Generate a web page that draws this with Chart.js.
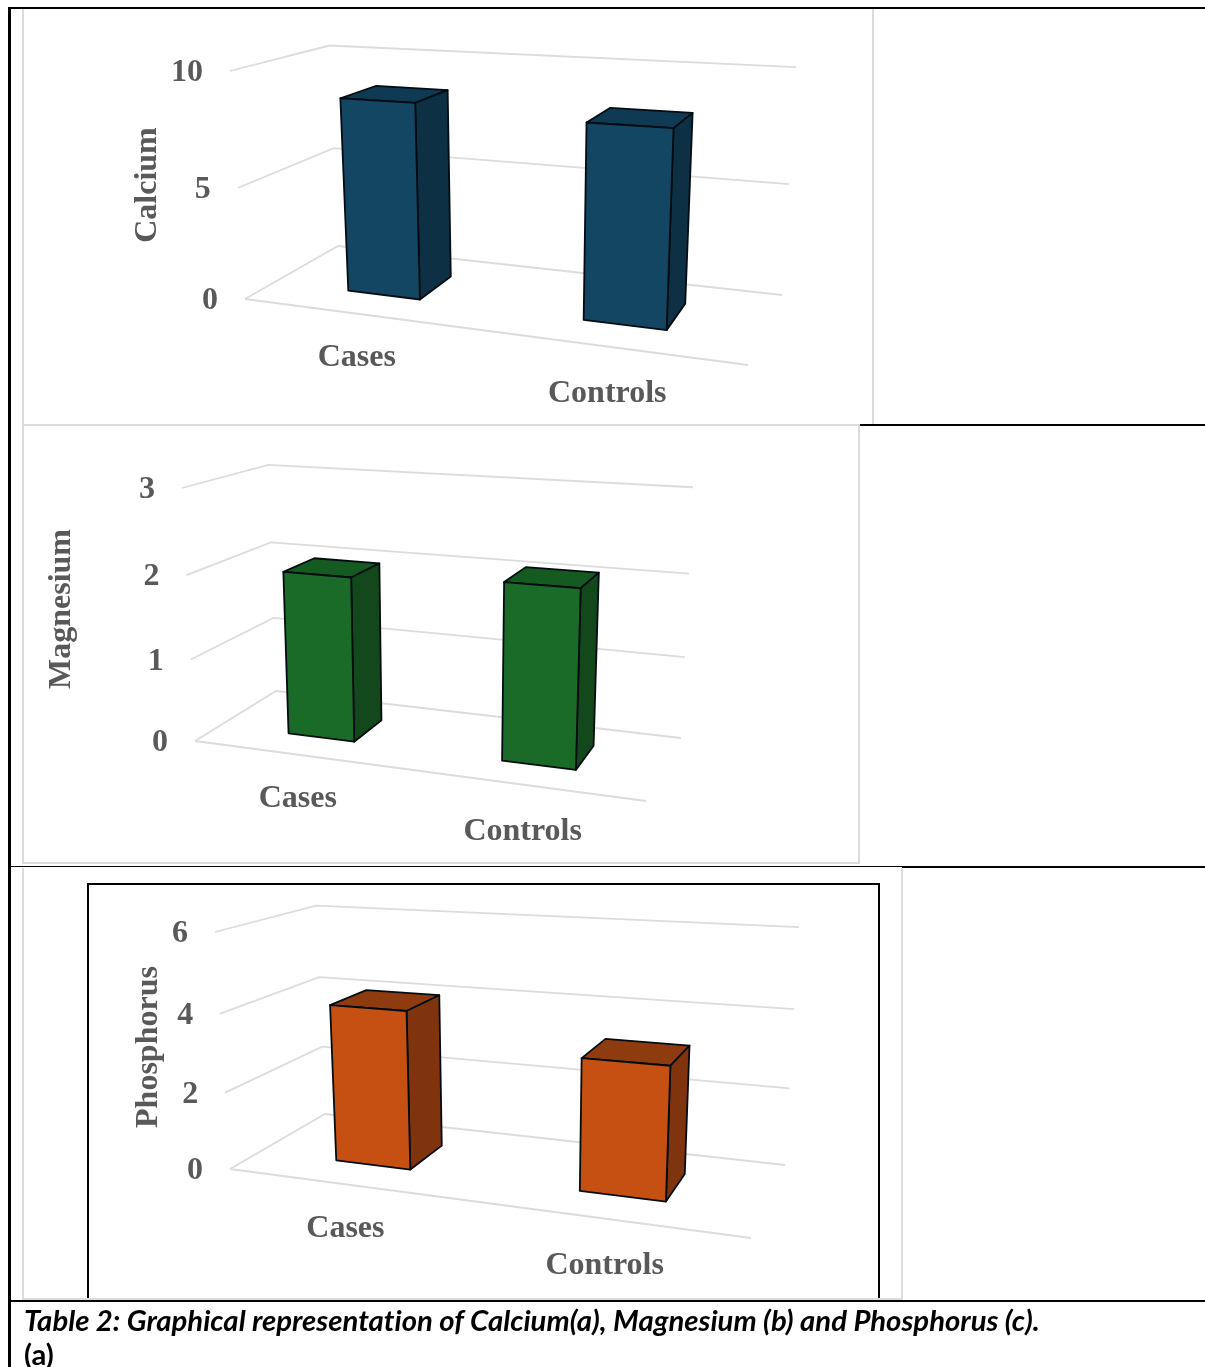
<!DOCTYPE html>
<html>
<head>
<meta charset="utf-8">
<title>Table 2</title>
<script src="https://cdn.jsdelivr.net/npm/chart.js@4/dist/chart.umd.js"></script>
<style>
html, body { margin: 0; padding: 0; background: #fff; overflow: hidden; }
body { position: relative; width: 1205px; height: 1367px; }
.rule { position: absolute; background: #000; }
.panel { position: absolute; box-sizing: border-box; background: #fff; }
.panel canvas { display: block; position: absolute; left: 0; top: 0; }
.edge { position: absolute; background: #dcdcdc; }
.caption { position: absolute; left: 24px; font-family: Lato, sans-serif; font-weight: bold; color: #000; white-space: nowrap; font-variant-ligatures: none; }
#box3 { position: absolute; left: 87px; top: 883px; width: 793px; height: 417px; box-sizing: border-box;
        border: 2px solid #000; border-bottom: none; pointer-events: none; }
</style>
</head>
<body>
<div class="panel" style="left:23px;top:9px;width:850px;height:415px"><canvas id="calcium"></canvas></div>
<div class="panel" style="left:23px;top:426px;width:836px;height:437px"><canvas id="magnesium"></canvas></div>
<div class="panel" style="left:23px;top:868px;width:878px;height:431px"><canvas id="phosphorus"></canvas></div>
<div id="box3"></div>

<div class="edge" style="left:22px;top:8px;width:2px;height:417px"></div>
<div class="edge" style="left:22px;top:8px;width:852px;height:1px"></div>
<div class="edge" style="left:872px;top:8px;width:2px;height:417px"></div>
<div class="edge" style="left:22px;top:424px;width:852px;height:2px"></div>
<div class="edge" style="left:22px;top:425px;width:2px;height:439px"></div>
<div class="edge" style="left:858px;top:426px;width:2px;height:438px"></div>
<div class="edge" style="left:22px;top:862px;width:838px;height:2px"></div>
<div class="edge" style="left:22px;top:868px;width:2px;height:432px"></div>
<div class="edge" style="left:901px;top:868px;width:2px;height:432px"></div>
<div class="edge" style="left:22px;top:1298px;width:881px;height:2px"></div>

<div class="rule" style="left:8px;top:7px;width:1197px;height:2px"></div>
<div class="rule" style="left:8px;top:7px;width:3px;height:1360px"></div>
<div class="rule" style="left:860px;top:424px;width:345px;height:2px"></div>
<div class="rule" style="left:11px;top:866px;width:1194px;height:1px"></div>
<div class="rule" style="left:902px;top:866px;width:303px;height:2px"></div>
<div class="rule" style="left:11px;top:1300px;width:1194px;height:2px"></div>

<div class="caption" style="top:1302px;font-size:29.3px;font-style:italic">Table 2: Graphical representation of Calcium(a), Magnesium (b) and Phosphorus (c).</div>
<div class="caption" style="top:1336px;font-size:29.3px">(a)</div>

<script>
var categories = ['Cases', 'Controls'];

var calciumValues = [8.65, 8.3];
var magnesiumValues = [1.98, 2.07];
var phosphorusValues = [4.06, 3.26];

var calciumTicks = [0, 5, 10];
var magnesiumTicks = [0, 1, 2, 3];
var phosphorusTicks = [0, 2, 4, 6];

var greyText = '#595959';
var gridColor = '#dcdcdc';
var labelFont = 'bold 32px "Liberation Serif"';
var depthFront = 0.3, depthBack = 0.7;

// camera matrix of the tilted box: floor corners give the plane, the two roof points give the height column
// floor corners run front-left, front-right, back-right, back-left
function makeProjector(view) {
    var p0 = view.floor[0], p1 = view.floor[1], p2 = view.floor[2], p3 = view.floor[3];
    var dx1 = p1[0] - p2[0], dx2 = p3[0] - p2[0], sx = p0[0] - p1[0] + p2[0] - p3[0];
    var dy1 = p1[1] - p2[1], dy2 = p3[1] - p2[1], sy = p0[1] - p1[1] + p2[1] - p3[1];
    var den = dx1 * dy2 - dx2 * dy1;
    var g = (sx * dy2 - dx2 * sy) / den;
    var h = (dx1 * sy - sx * dy1) / den;
    var a = p1[0] - p0[0] + g * p1[0], b = p3[0] - p0[0] + h * p3[0], c = p0[0];
    var d = p1[1] - p0[1] + g * p1[1], e = p3[1] - p0[1] + h * p3[1], f = p0[1];

    var rf = view.roofFront, rb = view.roofBack;
    var k = (a + b + rf[0] - rb[0] * (g + h + 1)) / (rb[0] - rf[0]);
    var j = rf[0] * (k + 1) - c;
    var l = rf[1] * (k + 1) - f;

    return function(u, v, z) {
        var w = g * u + h * z + k * v + 1;
        return [(a * u + b * z + j * v + c) / w - view.left, (d * u + e * z + l * v + f) / w - view.top];
    };
}

function face(ctx, pts, fill) {
    ctx.beginPath();
    ctx.moveTo(pts[0][0], pts[0][1]);
    for (var i = 1; i < pts.length; i++) ctx.lineTo(pts[i][0], pts[i][1]);
    ctx.closePath();
    ctx.fillStyle = fill;
    ctx.fill();
    ctx.lineWidth = 1.8;
    ctx.lineJoin = 'round';
    ctx.strokeStyle = '#030c12';
    ctx.stroke();
}

// the flat bars are only used for their geometry, they get drawn again in the tilted box
var tiltedBars = {
    id: 'tiltedBars',
    beforeDatasetsDraw: function(chart, args, opts) {
        var ctx = chart.ctx, area = chart.chartArea;
        var yScale = chart.scales.y, xScale = chart.scales.x;
        var project = makeProjector(opts.view);
        var levelOf = function(px) { return (area.bottom - px) / (area.bottom - area.top); };
        var spot = function(px) { return (px - area.left) / (area.right - area.left); };

        ctx.save();
        ctx.strokeStyle = gridColor;
        ctx.lineWidth = 1.8;
        yScale.ticks.forEach(function(tick) {
            var v = levelOf(yScale.getPixelForValue(tick.value));
            var p0 = project(0, v, 0), p1 = project(0, v, 1), p2 = project(1, v, 1);
            ctx.beginPath();
            ctx.moveTo(p0[0], p0[1]);
            ctx.lineTo(p1[0], p1[1]);
            ctx.lineTo(p2[0], p2[1]);
            ctx.stroke();
            ctx.fillStyle = greyText;
            ctx.font = labelFont;
            ctx.textAlign = 'right';
            ctx.textBaseline = 'middle';
            ctx.fillText(tick.label, p0[0] - 27, p0[1] + 2);
        });
        var e0 = project(0, 0, 0), e1 = project(1, 0, 0);
        ctx.beginPath();
        ctx.moveTo(e0[0], e0[1]);
        ctx.lineTo(e1[0], e1[1]);
        ctx.stroke();

        var ds = chart.data.datasets[0];
        chart.getDatasetMeta(0).data.forEach(function(bar, i) {
            var u0 = spot(bar.x - bar.width / 2), u1 = spot(bar.x + bar.width / 2);
            var v = levelOf(bar.y);
            face(ctx, [project(u0, v, depthFront), project(u1, v, depthFront), project(u1, v, depthBack), project(u0, v, depthBack)], ds.topColor);
            face(ctx, [project(u1, 0, depthFront), project(u1, v, depthFront), project(u1, v, depthBack), project(u1, 0, depthBack)], ds.sideColor);
            face(ctx, [project(u0, 0, depthFront), project(u1, 0, depthFront), project(u1, v, depthFront), project(u0, v, depthFront)], ds.backgroundColor);

            var mid = spot(xScale.getPixelForValue(i));
            var at = project(mid, 0, 0);
            ctx.fillStyle = greyText;
            ctx.font = labelFont;
            ctx.textAlign = 'center';
            ctx.textBaseline = 'middle';
            ctx.fillText(xScale.getLabelForValue(i), at[0], at[1] + 43 + 6 * mid);
        });

        ctx.translate(opts.titleX - opts.view.left, opts.titleY - opts.view.top);
        ctx.rotate(-Math.PI / 2);
        ctx.fillStyle = greyText;
        ctx.font = labelFont;
        ctx.textAlign = 'center';
        ctx.textBaseline = 'middle';
        ctx.fillText(yScale.options.title.text, 0, 0);
        ctx.restore();
        return false;
    }
};

function makeChart(id, title, values, ticks, colors, view, titleX, titleY) {
    var canvas = document.getElementById(id);
    canvas.width = canvas.parentNode.clientWidth;
    canvas.height = canvas.parentNode.clientHeight;
    return new Chart(canvas, {
        type: 'bar',
        plugins: [tiltedBars],
        data: {
            labels: categories,
            datasets: [{
                label: title,
                data: values,
                backgroundColor: colors[0],
                sideColor: colors[1],
                topColor: colors[2],
                categoryPercentage: 0.32,
                barPercentage: 1
            }]
        },
        options: {
            responsive: false,
            animation: false,
            plugins: {
                legend: { display: false },
                tooltip: { enabled: false },
                tiltedBars: { view: view, titleX: titleX, titleY: titleY }
            },
            scales: {
                x: { display: false },
                y: {
                    display: false,
                    min: ticks[0],
                    max: ticks[ticks.length - 1],
                    title: { display: true, text: title },
                    afterBuildTicks: function(scale) {
                        scale.ticks = ticks.map(function(t) { return { value: t }; });
                    }
                }
            }
        }
    });
}

makeChart('calcium', 'Calcium', calciumValues, calciumTicks,
    ['#134663', '#0d3044', '#0f3a53'],
    { left: 23, top: 9,
      floor: [[245, 299], [748, 365], [782, 295], [338, 246]],
      roofFront: [230, 71], roofBack: [796, 69] }, 148, 185);

makeChart('magnesium', 'Magnesium', magnesiumValues, magnesiumTicks,
    ['#1a6b28', '#12481b', '#155a20'],
    { left: 23, top: 426,
      floor: [[195, 741], [646, 801], [681, 738], [276, 691]],
      roofFront: [182, 488], roofBack: [693, 486] }, 62, 609);

makeChart('phosphorus', 'Phosphorus', phosphorusValues, phosphorusTicks,
    ['#c55012', '#80340e', '#8f3b10'],
    { left: 23, top: 868,
      floor: [[230, 1169], [751, 1238], [785, 1165], [325, 1114]],
      roofFront: [215, 932], roofBack: [799, 930] }, 149, 1047);
</script>
</body>
</html>
